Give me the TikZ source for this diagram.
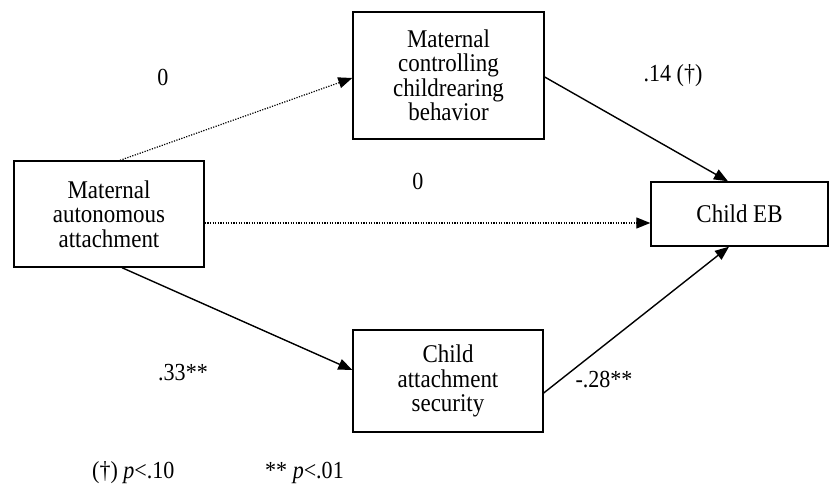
\documentclass[tikz,border=0pt]{standalone}
\usepackage{fontspec}
\setmainfont[FakeStretch=0.9]{Liberation Serif}
\usetikzlibrary{arrows.meta}
\begin{document}
\begin{tikzpicture}[x=1pt,y=-1pt,
  box/.style={draw,line width=1.4pt,align=center,inner sep=0pt,
    font=\fontsize{25.5}{24.5}\selectfont},
  lbl/.style={font=\fontsize{24.5}{24}\selectfont,inner sep=0pt},
  solidarrow/.style={line width=1.4pt,-{Triangle[length=14pt,width=11pt]}},
  dotarrow/.style={line width=1.2pt,dash pattern=on 1.2pt off 1.4pt,-{Triangle[length=14pt,width=11pt]}}]
\useasboundingbox[fill=white] (0,0) rectangle (829,486);
\node[box,minimum width=190pt,minimum height=106pt] (L) at (109,214) {Maternal\\autonomous\\attachment};
\node[box,minimum width=191pt,minimum height=127pt] (T) at (448.5,75.5) {Maternal\\controlling\\childrearing\\behavior};
\node[box,minimum width=190pt,minimum height=102pt] (B) at (448,381) {Child\\attachment\\security};
\node[box,minimum width=177pt,minimum height=64pt] (E) at (739.5,214) {Child EB};
\draw[dotarrow] ([xshift=11pt]L.north) -- ([yshift=-2.5pt]T.west);
\draw[dotarrow] ([yshift=-9pt]L.east) -- ([yshift=-9pt]E.west);
\draw[solidarrow] ([xshift=13pt]L.south) -- ([yshift=11pt]B.west);
\draw[solidarrow] ([yshift=-1.5pt]T.east) -- ([xshift=-11.5pt]E.north);
\draw[solidarrow] ([yshift=-12pt]B.east) -- ([xshift=-10.5pt]E.south);
\node[lbl] (l1) at (163,77) {0};
\node[lbl] (l2) at (673,76) {.14 (†)};
\node[lbl] (l3) at (418,181) {0};
\node[lbl] (l4) at (183,373) {.33**};
\node[lbl] (l5) at (604,380) {-.28**};
\node[lbl,anchor=west] (f1) at (92,473) {(†) \textit{p}<.10};
\node[lbl,anchor=west] (f2) at (265,473) {** \textit{p}<.01};
\end{tikzpicture}
\end{document}
